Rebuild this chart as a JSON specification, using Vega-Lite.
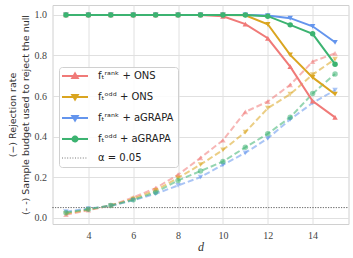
{
  "$schema": "https://vega.github.io/schema/vega-lite/v6.json",
  "width": 296,
  "height": 219,
  "autosize": {"type": "none"},
  "padding": {"left": 52.5, "top": 5, "right": 4.5, "bottom": 34},
  "background": "white",
  "config": {
    "view": {"stroke": "#d0d0d0", "strokeWidth": 1},
    "axis": {
      "grid": true, "gridColor": "#e0e0e0", "gridWidth": 1,
      "domain": false, "ticks": false, "tickSize": 0,
      "labelFont": "Liberation Serif", "labelFontSize": 10, "labelColor": "#444",
      "titleColor": "#333"
    }
  },
  "data": {
    "values": [
      {"d":3,"value":1.0,"method":"fₜʳᵃⁿᵏ + ONS","kind":"rate"},
      {"d":4,"value":1.0,"method":"fₜʳᵃⁿᵏ + ONS","kind":"rate"},
      {"d":5,"value":1.0,"method":"fₜʳᵃⁿᵏ + ONS","kind":"rate"},
      {"d":6,"value":1.0,"method":"fₜʳᵃⁿᵏ + ONS","kind":"rate"},
      {"d":7,"value":1.0,"method":"fₜʳᵃⁿᵏ + ONS","kind":"rate"},
      {"d":8,"value":1.0,"method":"fₜʳᵃⁿᵏ + ONS","kind":"rate"},
      {"d":9,"value":1.0,"method":"fₜʳᵃⁿᵏ + ONS","kind":"rate"},
      {"d":10,"value":0.993,"method":"fₜʳᵃⁿᵏ + ONS","kind":"rate"},
      {"d":11,"value":0.955,"method":"fₜʳᵃⁿᵏ + ONS","kind":"rate"},
      {"d":12,"value":0.885,"method":"fₜʳᵃⁿᵏ + ONS","kind":"rate"},
      {"d":13,"value":0.745,"method":"fₜʳᵃⁿᵏ + ONS","kind":"rate"},
      {"d":14,"value":0.575,"method":"fₜʳᵃⁿᵏ + ONS","kind":"rate"},
      {"d":15,"value":0.495,"method":"fₜʳᵃⁿᵏ + ONS","kind":"rate"},
      {"d":3,"value":1.0,"method":"fₜᵒᵈᵈ + ONS","kind":"rate"},
      {"d":4,"value":1.0,"method":"fₜᵒᵈᵈ + ONS","kind":"rate"},
      {"d":5,"value":1.0,"method":"fₜᵒᵈᵈ + ONS","kind":"rate"},
      {"d":6,"value":1.0,"method":"fₜᵒᵈᵈ + ONS","kind":"rate"},
      {"d":7,"value":1.0,"method":"fₜᵒᵈᵈ + ONS","kind":"rate"},
      {"d":8,"value":1.0,"method":"fₜᵒᵈᵈ + ONS","kind":"rate"},
      {"d":9,"value":1.0,"method":"fₜᵒᵈᵈ + ONS","kind":"rate"},
      {"d":10,"value":1.0,"method":"fₜᵒᵈᵈ + ONS","kind":"rate"},
      {"d":11,"value":0.998,"method":"fₜᵒᵈᵈ + ONS","kind":"rate"},
      {"d":12,"value":0.954,"method":"fₜᵒᵈᵈ + ONS","kind":"rate"},
      {"d":13,"value":0.803,"method":"fₜᵒᵈᵈ + ONS","kind":"rate"},
      {"d":14,"value":0.692,"method":"fₜᵒᵈᵈ + ONS","kind":"rate"},
      {"d":15,"value":0.609,"method":"fₜᵒᵈᵈ + ONS","kind":"rate"},
      {"d":3,"value":1.0,"method":"fₜʳᵃⁿᵏ + aGRAPA","kind":"rate"},
      {"d":4,"value":1.0,"method":"fₜʳᵃⁿᵏ + aGRAPA","kind":"rate"},
      {"d":5,"value":1.0,"method":"fₜʳᵃⁿᵏ + aGRAPA","kind":"rate"},
      {"d":6,"value":1.0,"method":"fₜʳᵃⁿᵏ + aGRAPA","kind":"rate"},
      {"d":7,"value":1.0,"method":"fₜʳᵃⁿᵏ + aGRAPA","kind":"rate"},
      {"d":8,"value":1.0,"method":"fₜʳᵃⁿᵏ + aGRAPA","kind":"rate"},
      {"d":9,"value":1.0,"method":"fₜʳᵃⁿᵏ + aGRAPA","kind":"rate"},
      {"d":10,"value":1.0,"method":"fₜʳᵃⁿᵏ + aGRAPA","kind":"rate"},
      {"d":11,"value":1.0,"method":"fₜʳᵃⁿᵏ + aGRAPA","kind":"rate"},
      {"d":12,"value":0.997,"method":"fₜʳᵃⁿᵏ + aGRAPA","kind":"rate"},
      {"d":13,"value":0.984,"method":"fₜʳᵃⁿᵏ + aGRAPA","kind":"rate"},
      {"d":14,"value":0.944,"method":"fₜʳᵃⁿᵏ + aGRAPA","kind":"rate"},
      {"d":15,"value":0.865,"method":"fₜʳᵃⁿᵏ + aGRAPA","kind":"rate"},
      {"d":3,"value":1.0,"method":"fₜᵒᵈᵈ + aGRAPA","kind":"rate"},
      {"d":4,"value":1.0,"method":"fₜᵒᵈᵈ + aGRAPA","kind":"rate"},
      {"d":5,"value":1.0,"method":"fₜᵒᵈᵈ + aGRAPA","kind":"rate"},
      {"d":6,"value":1.0,"method":"fₜᵒᵈᵈ + aGRAPA","kind":"rate"},
      {"d":7,"value":1.0,"method":"fₜᵒᵈᵈ + aGRAPA","kind":"rate"},
      {"d":8,"value":1.0,"method":"fₜᵒᵈᵈ + aGRAPA","kind":"rate"},
      {"d":9,"value":1.0,"method":"fₜᵒᵈᵈ + aGRAPA","kind":"rate"},
      {"d":10,"value":1.0,"method":"fₜᵒᵈᵈ + aGRAPA","kind":"rate"},
      {"d":11,"value":1.0,"method":"fₜᵒᵈᵈ + aGRAPA","kind":"rate"},
      {"d":12,"value":0.994,"method":"fₜᵒᵈᵈ + aGRAPA","kind":"rate"},
      {"d":13,"value":0.951,"method":"fₜᵒᵈᵈ + aGRAPA","kind":"rate"},
      {"d":14,"value":0.907,"method":"fₜᵒᵈᵈ + aGRAPA","kind":"rate"},
      {"d":15,"value":0.757,"method":"fₜᵒᵈᵈ + aGRAPA","kind":"rate"},
      {"d":3,"value":0.015,"method":"fₜʳᵃⁿᵏ + ONS","kind":"budget"},
      {"d":4,"value":0.037,"method":"fₜʳᵃⁿᵏ + ONS","kind":"budget"},
      {"d":5,"value":0.06,"method":"fₜʳᵃⁿᵏ + ONS","kind":"budget"},
      {"d":6,"value":0.10,"method":"fₜʳᵃⁿᵏ + ONS","kind":"budget"},
      {"d":7,"value":0.146,"method":"fₜʳᵃⁿᵏ + ONS","kind":"budget"},
      {"d":8,"value":0.212,"method":"fₜʳᵃⁿᵏ + ONS","kind":"budget"},
      {"d":9,"value":0.295,"method":"fₜʳᵃⁿᵏ + ONS","kind":"budget"},
      {"d":10,"value":0.382,"method":"fₜʳᵃⁿᵏ + ONS","kind":"budget"},
      {"d":11,"value":0.522,"method":"fₜʳᵃⁿᵏ + ONS","kind":"budget"},
      {"d":12,"value":0.573,"method":"fₜʳᵃⁿᵏ + ONS","kind":"budget"},
      {"d":13,"value":0.655,"method":"fₜʳᵃⁿᵏ + ONS","kind":"budget"},
      {"d":14,"value":0.77,"method":"fₜʳᵃⁿᵏ + ONS","kind":"budget"},
      {"d":15,"value":0.811,"method":"fₜʳᵃⁿᵏ + ONS","kind":"budget"},
      {"d":3,"value":0.02,"method":"fₜᵒᵈᵈ + ONS","kind":"budget"},
      {"d":4,"value":0.04,"method":"fₜᵒᵈᵈ + ONS","kind":"budget"},
      {"d":5,"value":0.06,"method":"fₜᵒᵈᵈ + ONS","kind":"budget"},
      {"d":6,"value":0.093,"method":"fₜᵒᵈᵈ + ONS","kind":"budget"},
      {"d":7,"value":0.135,"method":"fₜᵒᵈᵈ + ONS","kind":"budget"},
      {"d":8,"value":0.196,"method":"fₜᵒᵈᵈ + ONS","kind":"budget"},
      {"d":9,"value":0.262,"method":"fₜᵒᵈᵈ + ONS","kind":"budget"},
      {"d":10,"value":0.334,"method":"fₜᵒᵈᵈ + ONS","kind":"budget"},
      {"d":11,"value":0.422,"method":"fₜᵒᵈᵈ + ONS","kind":"budget"},
      {"d":12,"value":0.54,"method":"fₜᵒᵈᵈ + ONS","kind":"budget"},
      {"d":13,"value":0.609,"method":"fₜᵒᵈᵈ + ONS","kind":"budget"},
      {"d":14,"value":0.706,"method":"fₜᵒᵈᵈ + ONS","kind":"budget"},
      {"d":15,"value":0.782,"method":"fₜᵒᵈᵈ + ONS","kind":"budget"},
      {"d":3,"value":0.03,"method":"fₜʳᵃⁿᵏ + aGRAPA","kind":"budget"},
      {"d":4,"value":0.045,"method":"fₜʳᵃⁿᵏ + aGRAPA","kind":"budget"},
      {"d":5,"value":0.058,"method":"fₜʳᵃⁿᵏ + aGRAPA","kind":"budget"},
      {"d":6,"value":0.086,"method":"fₜʳᵃⁿᵏ + aGRAPA","kind":"budget"},
      {"d":7,"value":0.118,"method":"fₜʳᵃⁿᵏ + aGRAPA","kind":"budget"},
      {"d":8,"value":0.159,"method":"fₜʳᵃⁿᵏ + aGRAPA","kind":"budget"},
      {"d":9,"value":0.20,"method":"fₜʳᵃⁿᵏ + aGRAPA","kind":"budget"},
      {"d":10,"value":0.261,"method":"fₜʳᵃⁿᵏ + aGRAPA","kind":"budget"},
      {"d":11,"value":0.32,"method":"fₜʳᵃⁿᵏ + aGRAPA","kind":"budget"},
      {"d":12,"value":0.391,"method":"fₜʳᵃⁿᵏ + aGRAPA","kind":"budget"},
      {"d":13,"value":0.485,"method":"fₜʳᵃⁿᵏ + aGRAPA","kind":"budget"},
      {"d":14,"value":0.566,"method":"fₜʳᵃⁿᵏ + aGRAPA","kind":"budget"},
      {"d":15,"value":0.629,"method":"fₜʳᵃⁿᵏ + aGRAPA","kind":"budget"},
      {"d":3,"value":0.025,"method":"fₜᵒᵈᵈ + aGRAPA","kind":"budget"},
      {"d":4,"value":0.042,"method":"fₜᵒᵈᵈ + aGRAPA","kind":"budget"},
      {"d":5,"value":0.06,"method":"fₜᵒᵈᵈ + aGRAPA","kind":"budget"},
      {"d":6,"value":0.088,"method":"fₜᵒᵈᵈ + aGRAPA","kind":"budget"},
      {"d":7,"value":0.125,"method":"fₜᵒᵈᵈ + aGRAPA","kind":"budget"},
      {"d":8,"value":0.184,"method":"fₜᵒᵈᵈ + aGRAPA","kind":"budget"},
      {"d":9,"value":0.23,"method":"fₜᵒᵈᵈ + aGRAPA","kind":"budget"},
      {"d":10,"value":0.277,"method":"fₜᵒᵈᵈ + aGRAPA","kind":"budget"},
      {"d":11,"value":0.347,"method":"fₜᵒᵈᵈ + aGRAPA","kind":"budget"},
      {"d":12,"value":0.414,"method":"fₜᵒᵈᵈ + aGRAPA","kind":"budget"},
      {"d":13,"value":0.495,"method":"fₜᵒᵈᵈ + aGRAPA","kind":"budget"},
      {"d":14,"value":0.612,"method":"fₜᵒᵈᵈ + aGRAPA","kind":"budget"},
      {"d":15,"value":0.709,"method":"fₜᵒᵈᵈ + aGRAPA","kind":"budget"},
      {"d":3,"value":0.05,"method":"α = 0.05","kind":"alpha"},
      {"d":15,"value":0.05,"method":"α = 0.05","kind":"alpha"}
    ]
  },
  "encoding": {
    "x": {
      "field": "d", "type": "quantitative",
      "scale": {"domain": [2.4, 15.6], "nice": false, "zero": false},
      "axis": {"values": [4, 6, 8, 10, 12, 14], "title": "d", "titleFont": "Liberation Serif", "titleFontStyle": "italic", "titleFontWeight": "normal", "titleFontSize": 12, "labelPadding": 6, "titlePadding": 1}
    },
    "y": {
      "field": "value", "type": "quantitative",
      "scale": {"domain": [-0.031, 1.049], "nice": false, "zero": false},
      "axis": {"values": [0, 0.2, 0.4, 0.6, 0.8, 1.0], "format": ".1f", "labelPadding": 6,
        "title": ["(−) Rejection rate", "(- -) Sample budget used to reject the null"],
        "titleFont": "DejaVu Sans", "titleFontWeight": "normal", "titleFontSize": 9.5, "titleLineHeight": 13, "titlePadding": 4}
    },
    "color": {
      "field": "method", "type": "nominal",
      "scale": {
        "domain": ["fₜʳᵃⁿᵏ + ONS", "fₜᵒᵈᵈ + ONS", "fₜʳᵃⁿᵏ + aGRAPA", "fₜᵒᵈᵈ + aGRAPA", "α = 0.05"],
        "range": ["#f07a78", "#daa520", "#6495ed", "#3cb371", "#777777"]
      },
      "legend": {
        "title": null,
        "orient": "none", "legendX": 6.5, "legendY": 62,
        "padding": 4, "fillColor": "rgba(255,255,255,0.85)", "strokeColor": "#d0d0d0", "cornerRadius": 3,
        "labelFont": "DejaVu Sans", "labelFontSize": 10, "labelColor": "#222",
        "symbolSize": 100, "labelOffset": 25, "rowPadding": 7,
        "encode": {
          "symbols": {
            "update": {
              "shape": {"signal": "datum.value === 'fₜʳᵃⁿᵏ + ONS' ? 'M-1.2,0L4,0M1.4,-0.5L1.95,0.42L0.85,0.42Z' : datum.value === 'α = 0.05' ? 'M-1.2,0L4,0' : datum.value === 'fₜᵒᵈᵈ + aGRAPA' ? 'M-1.2,0L4,0M1.9,0A0.5,0.5,0,1,1,0.9,0A0.5,0.5,0,1,1,1.9,0Z' : 'M-1.2,0L4,0M1.4,0.5L1.95,-0.42L0.85,-0.42Z'"},
              "strokeDash": {"signal": "datum.value === 'α = 0.05' ? [1, 1.6] : [1, 0]"},
              "fill": {"signal": "datum.value === 'α = 0.05' ? 'transparent' : scale('color', datum.value)"},
              "stroke": {"signal": "scale('color', datum.value)"},
              "strokeWidth": {"signal": "datum.value === 'α = 0.05' ? 1 : 2"},
              "opacity": {"value": 1}
            }
          }
        }
      }
    }
  },
  "layer": [
    {
      "transform": [{"filter": "datum.kind === 'alpha'"}],
      "mark": {"type": "rule", "strokeDash": [1, 1.6], "strokeWidth": 1},
      "encoding": {"x": {"value": 0}, "x2": {"value": 296}, "y": {"datum": 0.05}, "color": {"datum": "α = 0.05"}}
    },
    {
      "transform": [{"filter": "datum.kind === 'budget'"}],
      "mark": {"type": "line", "strokeDash": [6, 3], "strokeWidth": 2, "opacity": 0.55}
    },
    {
      "transform": [{"filter": "datum.kind === 'budget'"}],
      "mark": {"type": "point", "filled": true, "size": 30, "opacity": 0.55},
      "encoding": {
        "shape": {"field": "method", "type": "nominal", "legend": null,
          "scale": {"domain": ["fₜʳᵃⁿᵏ + ONS", "fₜᵒᵈᵈ + ONS", "fₜʳᵃⁿᵏ + aGRAPA", "fₜᵒᵈᵈ + aGRAPA"], "range": ["triangle-up", "triangle-down", "triangle-down", "circle"]}}
      }
    },
    {
      "transform": [{"filter": "datum.kind === 'rate'"}],
      "mark": {"type": "line", "strokeWidth": 2}
    },
    {
      "transform": [{"filter": "datum.kind === 'rate'"}],
      "mark": {"type": "point", "filled": true, "size": 30, "opacity": 1},
      "encoding": {
        "shape": {"field": "method", "type": "nominal", "legend": null,
          "scale": {"domain": ["fₜʳᵃⁿᵏ + ONS", "fₜᵒᵈᵈ + ONS", "fₜʳᵃⁿᵏ + aGRAPA", "fₜᵒᵈᵈ + aGRAPA"], "range": ["triangle-up", "triangle-down", "triangle-down", "circle"]}}
      }
    }
  ]
}
